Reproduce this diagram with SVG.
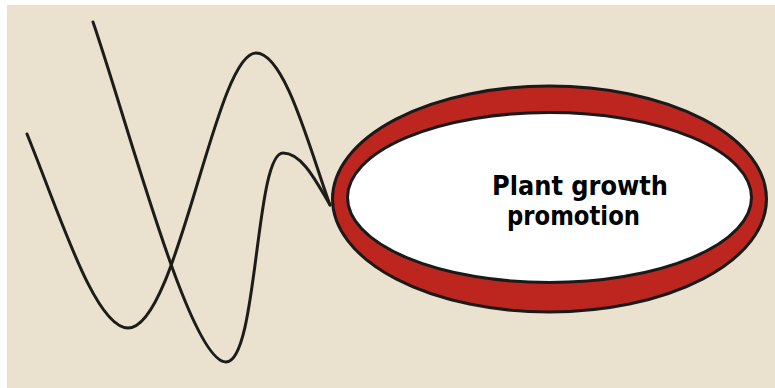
<svg xmlns="http://www.w3.org/2000/svg" width="775" height="388" viewBox="0 0 775 388">
<style>
.curve{fill:none;stroke:#1c1c1a;stroke-width:3;stroke-linecap:round}
.lbl{font-family:"DejaVu Sans","Liberation Sans",sans-serif;font-weight:bold;font-size:27px;fill:#000;text-anchor:middle}
</style>
<rect x="0" y="0" width="775" height="388" fill="#ffffff"/>
<rect x="7" y="5" width="768" height="383" fill="#eae1cf"/>
<g id="connectors">
<path class="curve" d="M27,134 C60,215 95,328 128,328 C178,328 215,53 256,53 C285,53 310,150 330,205"/>
<path class="curve" d="M93,22 C130,130 190,362 226,362 C258,362 255,153 283,153 C303,153 318,185 330,205"/>
</g>
<g id="node-plant-growth">
<ellipse cx="549.5" cy="199" rx="217" ry="113" fill="#bd261e" stroke="#1a1a1a" stroke-width="3"/>
<ellipse cx="549.5" cy="197.5" rx="202" ry="85" fill="#ffffff" stroke="#1a1a1a" stroke-width="3"/>
<text class="lbl" x="580" y="195" textLength="176" lengthAdjust="spacingAndGlyphs">Plant growth</text>
<text class="lbl" x="573.5" y="225" textLength="133" lengthAdjust="spacingAndGlyphs">promotion</text>
</g>
</svg>
